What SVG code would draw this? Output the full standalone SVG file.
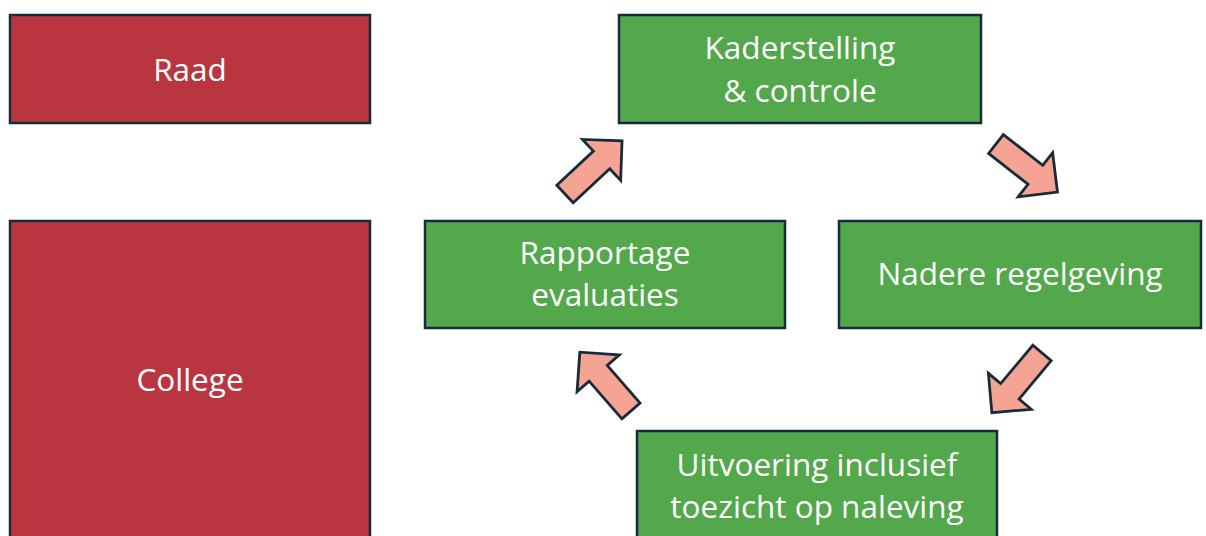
<svg xmlns="http://www.w3.org/2000/svg" width="1206" height="536" viewBox="0 0 1206 536">
<style>
.red{fill:#B93540;stroke:#172B3A;stroke-width:2.5}
.green{fill:#52A84B;stroke:#172B3A;stroke-width:2.5}
.arr{fill:#F5A494;stroke:#172B3A;stroke-width:2.8;stroke-linejoin:miter}
text{font-family:"Open Sans","Liberation Sans",sans-serif;font-size:31.5px;fill:#FFFFFF;text-anchor:middle}
</style>
<defs>
<path id="blk" d="M0,-12 H50 V-28 L78,0 L50,28 V12 H0 Z"/>
</defs>
<rect width="1206" height="536" fill="#FFFFFF"/>
<g id="raad"><rect class="red" x="10" y="15" width="360" height="108"/><text x="190" y="81">Raad</text></g>
<g id="college"><rect class="red" x="10" y="221" width="360" height="330"/><text x="190" y="391">College</text></g>
<g id="kaderstelling"><rect class="green" x="619" y="15" width="362" height="108"/><text x="800" y="59">Kaderstelling</text><text x="800" y="102">&amp; controle</text></g>
<g id="rapportage"><rect class="green" x="425" y="221" width="360" height="107"/><text x="605" y="264">Rapportage</text><text x="605" y="306">evaluaties</text></g>
<g id="nadere"><rect class="green" x="839" y="221" width="362" height="107"/><text x="1020" y="285">Nadere regelgeving</text></g>
<g id="uitvoering"><rect class="green" x="637" y="431" width="360" height="120"/><text x="817" y="476">Uitvoering inclusief</text><text x="817" y="518">toezicht op naleving</text></g>
<g id="connectors">
<use href="#blk" class="arr" transform="translate(565,194) rotate(-43)"/>
<use href="#blk" class="arr" transform="translate(996,144) rotate(38)"/>
<use href="#blk" class="arr" transform="translate(1042,353) rotate(130)"/>
<use href="#blk" class="arr" transform="translate(631,411) rotate(-131)"/>
</g>
</svg>
